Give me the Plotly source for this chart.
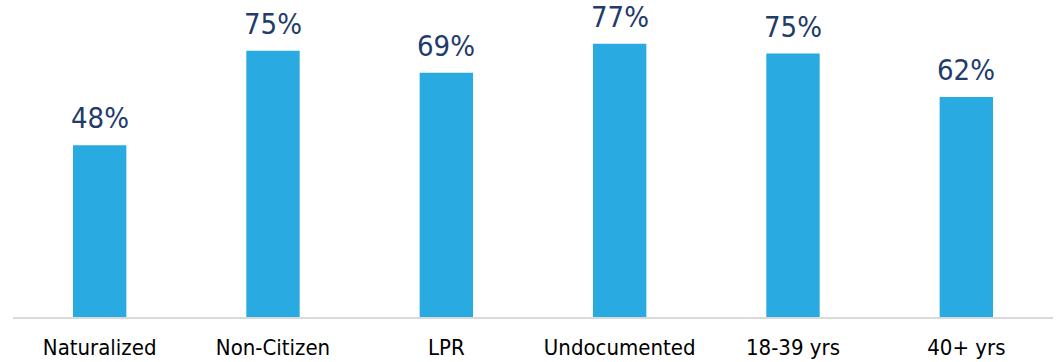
import plotly.graph_objects as go

categories = ["Naturalized", "Non-Citizen", "LPR", "Undocumented", "18-39 yrs", "40+ yrs"]
values = [48.4, 75.0, 68.8, 77.0, 74.2, 62.0]
labels = ["48%", "75%", "69%", "77%", "75%", "62%"]

BAR_COLOR = "#29ABE2"
TEXT_COLOR = "#1F3C6B"
FONT = "DejaVu Sans Condensed, DejaVu Sans, sans-serif"

fig = go.Figure(
    go.Bar(
        x=categories,
        y=values,
        marker=dict(color=BAR_COLOR, line=dict(width=0)),
        cliponaxis=False,
        hoverinfo="skip",
    )
)

for c, v, t in zip(categories, values, labels):
    fig.add_annotation(
        x=c, y=v, text=t, showarrow=False,
        xanchor="center", yanchor="bottom", yshift=8,
        font=dict(family=FONT, size=29, color=TEXT_COLOR),
    )

fig.update_layout(
    width=1057,
    height=362,
    margin=dict(l=13, r=4, t=0, b=45),
    paper_bgcolor="white",
    plot_bgcolor="white",
    bargap=0.692,
    showlegend=False,
    font=dict(family=FONT, size=22, color="#000000"),
)
fig.update_xaxes(
    showline=True,
    linecolor="#D9D9D9",
    linewidth=2,
    showgrid=False,
    ticks="",
    ticklabelstandoff=10,
    tickfont=dict(family=FONT, size=22, color="#000000"),
)
fig.update_yaxes(
    range=[0, 89.3],
    visible=False,
    showgrid=False,
    zeroline=False,
)

fig.write_html("out.html")
